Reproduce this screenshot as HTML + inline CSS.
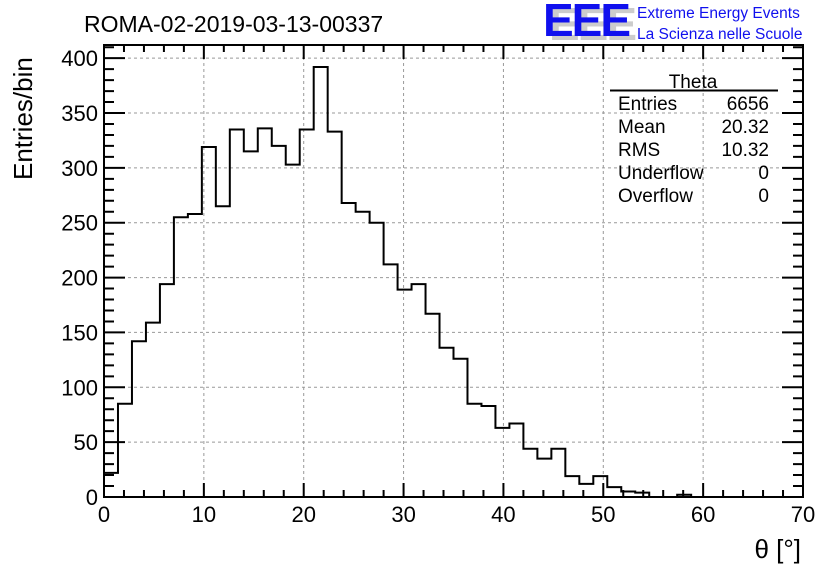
<!DOCTYPE html>
<html><head><meta charset="utf-8"><style>
body{margin:0;background:#fff;}
svg text{font-family:"Liberation Sans",sans-serif;}
</style></head><body>
<svg id="chart" width="836" height="572" xmlns="http://www.w3.org/2000/svg">
<rect width="836" height="572" fill="#fff"/>
<g id="grid"></g>
<path id="hist" fill="none" stroke="#000" stroke-width="2"/>
<g id="axes"></g>
<text x="84" y="32" font-size="23">ROMA-02-2019-03-13-00337</text>
<g>
<text x="549" y="40" font-size="46" font-weight="bold" fill="#ccc" letter-spacing="-2">EEE</text>
<text x="543" y="36" font-size="46" font-weight="bold" fill="#1010ee" letter-spacing="-2">EEE</text>
<text x="637" y="18" font-size="15.5" fill="#1010ee">Extreme Energy Events</text>
<text x="637" y="39" font-size="15.5" fill="#1010ee">La Scienza nelle Scuole</text>
</g>
<g font-size="19">
<text x="693" y="88" text-anchor="middle">Theta</text>
<line x1="610" y1="90.5" x2="778" y2="90.5" stroke="#000" stroke-width="2"/>
<text x="618" y="110">Entries</text><text x="769" y="110" text-anchor="end">6656</text>
<text x="618" y="133">Mean</text><text x="769" y="133" text-anchor="end">20.32</text>
<text x="618" y="156">RMS</text><text x="769" y="156" text-anchor="end">10.32</text>
<text x="618" y="179">Underflow</text><text x="769" y="179" text-anchor="end">0</text>
<text x="618" y="202">Overflow</text><text x="769" y="202" text-anchor="end">0</text>
</g>
<text transform="translate(32,180) rotate(-90)" font-size="26">Entries/bin</text>
<text x="801" y="558" text-anchor="end" font-size="26">θ [°]</text>
</svg>
<script>
const binCounts=[22,85,142,159,194,255,258,319,265,335,315,336,320,303,335,392,333,268,260,250,212,189,194,167,136,126,85,83,63,67,44,35,44,19,12,19,9,5,4,0,0,2,0,0,0,0,0,0,0,0];
const xTicks=[0,10,20,30,40,50,60,70];
const yTicks=[0,50,100,150,200,250,300,350,400];
const binWidth=1.4, xMin=0, xMax=70, yMax=412;
const L=104,R=803,T=45,B=497;
const NS="http://www.w3.org/2000/svg";
function xs(v){return L+(v-xMin)/(xMax-xMin)*(R-L);}
function ys(v){return B-v/yMax*(B-T);}
function mk(tag,attrs,parent){const e=document.createElementNS(NS,tag);for(const k in attrs)e.setAttribute(k,attrs[k]);parent.appendChild(e);return e;}
const grid=document.getElementById('grid'),axes=document.getElementById('axes');
xTicks.forEach(t=>{if(t>xMin&&t<xMax){const g=mk('line',{x1:xs(t),x2:xs(t),y1:T,y2:B,stroke:'#999','stroke-dasharray':'3,3','stroke-width':1},grid);

}});
yTicks.forEach(t=>{if(t>0){const g=mk('line',{x1:L,x2:R,y1:ys(t),y2:ys(t),stroke:'#999','stroke-dasharray':'3,3','stroke-width':1},grid);

}});
let d='M'+xs(0)+','+ys(0);
binCounts.forEach((c,i)=>{d+=' L'+xs(i*binWidth)+','+ys(c)+' L'+xs((i+1)*binWidth)+','+ys(c);});
d+=' L'+xs(binCounts.length*binWidth)+','+ys(0);
document.getElementById('hist').setAttribute('d',d);
const fr=mk('rect',{x:L,y:T,width:R-L,height:B-T,fill:'none',stroke:'#000','stroke-width':2},axes);


let tp='';
for(let v=xMin;v<=xMax;v+=2){const len=(v%10===0)?14:7;tp+=`M${xs(v)},${B} v${-len} M${xs(v)},${T} v${len} `;}
for(let v=0;v<=yMax;v+=10){const len=(v%50===0)?21:10;tp+=`M${L},${ys(v)} h${len} M${R},${ys(v)} h${-len} `;}
const tk=mk('path',{d:tp,stroke:'#000','stroke-width':2,fill:'none'},axes);


xTicks.forEach(t=>{const e=mk('text',{x:xs(t),y:522,'text-anchor':'middle','font-size':22},axes);e.textContent=t;

});
yTicks.forEach(t=>{const e=mk('text',{x:98,y:ys(t)+8,'text-anchor':'end','font-size':22},axes);e.textContent=t;

});
</script>
</body></html>
